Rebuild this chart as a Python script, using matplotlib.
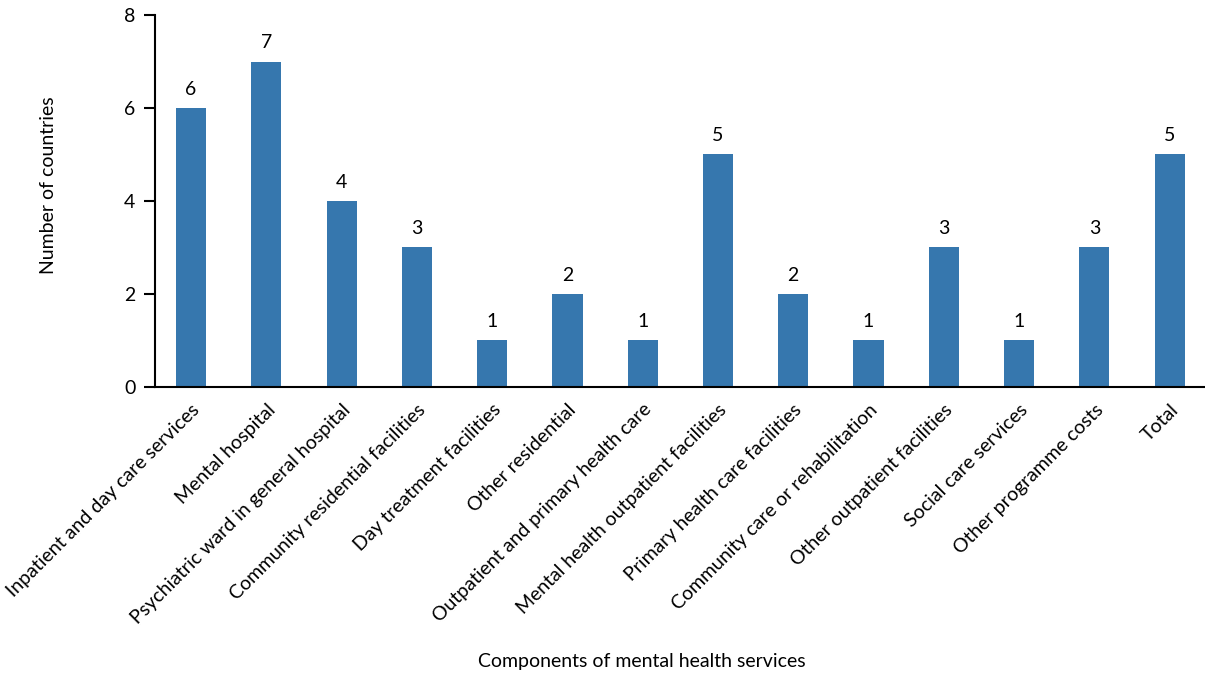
import matplotlib.pyplot as plt
import numpy as np

plt.rcParams['font.family'] = ['Lato', 'DejaVu Sans']

categories = ["Inpatient and day care services", "Mental hospital",
              "Psychiatric ward in general hospital", "Community residential facilities",
              "Day treatment facilities", "Other residential",
              "Outpatient and primary health care", "Mental health outpatient facilities",
              "Primary health care facilities", "Community care or rehabilitation",
              "Other outpatient facilities", "Social care services",
              "Other programme costs", "Total"]
counts = [6, 7, 4, 3, 1, 2, 1, 5, 2, 1, 3, 1, 3, 5]

fig = plt.figure(figsize=(12.05, 6.74), dpi=100)
ax = fig.add_axes([0.1286, 0.426, 0.8714, 0.5517])

x = np.arange(len(categories))
bars = ax.bar(x, counts, width=0.4, color='#3677ae')
for xi, v in zip(x, counts):
    ax.text(xi, v + 0.22, str(v), ha='center', va='bottom', fontsize=14)

ax.set_xlim(-0.48, len(categories) - 0.53)
ax.set_ylim(0, 8)
ax.set_yticks([0, 2, 4, 6, 8])
ax.set_xticks(x)
ax.set_xticklabels(categories, rotation=45, ha='right', rotation_mode='anchor', fontsize=14)
ax.tick_params(axis='y', length=8, width=1.5, labelsize=14, pad=6)
ax.tick_params(axis='x', length=0, pad=10)
for s in ['top', 'right']:
    ax.spines[s].set_visible(False)
ax.spines['left'].set_linewidth(1.5)
ax.spines['bottom'].set_linewidth(1.5)

fig.text(0.04, 0.7255, "Number of countries", rotation=90, ha='center', va='center', fontsize=14)
fig.text(0.533, 0.018, "Components of mental health services", ha='center', va='center', fontsize=14)

fig.savefig('out.png', dpi=100)
